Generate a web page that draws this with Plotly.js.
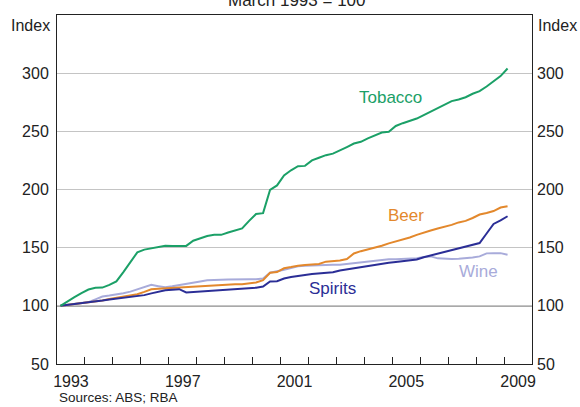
<!DOCTYPE html>
<html>
<head>
<meta charset="utf-8">
<script src="https://cdn.plot.ly/plotly-3.0.1.min.js"></script>
<style>html,body{margin:0;padding:0;background:#fff;}#chart{width:580px;height:407px;}</style>
</head>
<body>
<div id="chart"></div>
<script>
// Quarterly index, March quarter 1993 = 100 (1993 Q1 .. 2009 Q1)
var startYear = 1993.125;
var tobacco = [100,104,107.5,111,114,115.5,115.7,118,121,129,138,146,148.3,149.3,150.5,151.7,151.4,151.4,151.5,156,158,160,161,
  161,163,165,166.5,173,179,179.7,199.7,203.5,212,216.5,220,220.3,225,227.3,229.5,230.8,234,236.5,239.5,241,244,
  246.5,249,249.7,254.6,257,259.3,261,264,267,270,272.3,276,277.3,279.3,282.3,284.5,288.5,293,297.5,304];
var beer = [100,100.7,101.5,102.3,103,103.7,104.5,105.8,107,108,109,110,112,114.3,114.6,115,115.4,115.7,116,116.2,116.4,116.8,117.2,
  117.8,118.4,118.5,118.6,119,120,122,128.4,129,132.3,133.3,134.5,135,135.5,136,138,138.5,138.9,140.2,145,147,148.5,
  150,151.7,153.7,155.3,156.7,158.7,161,163.2,164.8,166.5,168,169.6,171.7,173,175.5,178.5,179.8,181.5,184.5,185.6];
var wine = [100,100.7,101.4,102.3,103.2,105.6,108,108.8,109.5,110.8,112.2,114.1,116.3,118,116.9,115.9,116.8,118,119.2,120.2,121,121.9,122.4,
  122.4,122.6,122.9,122.9,122.9,122.9,123.5,128.4,129.4,131,132.6,134,134.5,134.8,135.1,135.3,135.3,135.3,136,137.1,137.7,138.4,
  139,139.7,140,140.1,140.2,140.2,140.9,141.9,142.5,140.8,140.3,140.2,140.4,140.8,141.5,142.5,145.1,145.3,145.3,143.9];
var spirits = [100,100.7,101.4,102.2,102.7,103.3,104.5,105.4,106.1,106.8,107.4,108,109.2,110.7,112.1,113.3,113.8,114.3,111.5,111.9,112.3,112.7,113.2,
  113.7,114.2,114.6,114.9,115.2,115.6,116.6,121,121.2,123.5,124.8,126,126.6,127.3,127.8,128.3,128.8,130.4,131.4,132.5,132.9,134,
  135.2,136.1,137,137.6,138.2,138.9,139.8,141.8,143.3,144.5,146.3,148,149.5,150.6,152.2,154,162.2,170.4,173.5,177];

var yearTicks = [1993,1994,1995,1996,1997,1998,1999,2000,2001,2002,2003,2004,2005,2006,2007,2008,2009,2010];
var yearLabelPos = [1993.5,1997.5,2001.5,2005.5,2009.5];
var yearLabels = ['1993','1997','2001','2005','2009'];
var yTicks = [50,100,150,200,250,300,350];
var yLabels = ['50','100','150','200','250','300',''];

var dates = tobacco.map(function(_, i){ return startYear + 0.25*i; });

var colors = {tobacco:'#1ba067', beer:'#e3882c', wine:'#a8abda', spirits:'#2b2e96'};

function line(y, name, color){
  return {x: dates, y: y, name: name, type:'scatter', mode:'lines',
          line:{color:color, width:2}, hoverinfo:'skip', showlegend:false};
}

var traces = [
  line(wine, 'Wine', colors.wine),
  line(beer, 'Beer', colors.beer),
  line(spirits, 'Spirits', colors.spirits),
  line(tobacco, 'Tobacco', colors.tobacco),
  {x:[], y:[], xaxis:'x2', yaxis:'y', showlegend:false, hoverinfo:'skip'},
  {x:[], y:[], xaxis:'x', yaxis:'y2', showlegend:false, hoverinfo:'skip'}
];

var font = {family:'"Liberation Sans", Arial, sans-serif', size:16, color:'#222'};

var layout = {
  width:580, height:407,
  margin:{l:57, r:48, t:15, b:43, pad:0},
  paper_bgcolor:'#fff', plot_bgcolor:'#fff',
  font: font,
  showlegend:false,
  xaxis:{range:[1993,2010], tickvals:yearTicks, ticks:'inside', ticklen:7, tickcolor:'#222', tickwidth:1,
         showticklabels:false, showgrid:false, zeroline:false,
         showline:true, mirror:true, linecolor:'#222', linewidth:1},
  xaxis2:{range:[1993,2010], overlaying:'x', anchor:'y', side:'bottom', tickvals:yearLabelPos, ticktext:yearLabels,
          ticks:'', showgrid:false, zeroline:false, showline:false, ticklabelstandoff:6, tickfont:font},
  yaxis:{range:[50,350], tickvals:yTicks, ticktext:yLabels, ticks:'', showgrid:true, gridcolor:'#c4c4c4', gridwidth:1,
         zeroline:false, showline:true, mirror:true, linecolor:'#222', linewidth:1, ticklabelstandoff:4, tickfont:font},
  yaxis2:{range:[50,350], overlaying:'y', anchor:'x', side:'right', tickvals:yTicks, ticktext:yLabels, ticks:'',
          showgrid:false, zeroline:false, showline:false, ticklabelstandoff:4, tickfont:font},
  shapes:[
    {type:'line', xref:'paper', x0:0, x1:1, yref:'y', y0:100, y1:100, line:{color:'#555', width:1.5}, layer:'below'}
  ],
  annotations:[
    {text:'March 1993 = 100', xref:'paper', yref:'paper', x:0.505, y:1.042, xanchor:'center', yanchor:'middle', showarrow:false,
     font:{family:font.family, size:17, color:'#222'}},
    {text:'Index', xref:'paper', yref:'paper', x:-0.011, y:0.971, xanchor:'right', yanchor:'middle', showarrow:false, font:font},
    {text:'Index', xref:'paper', yref:'paper', x:1.008, y:0.971, xanchor:'left', yanchor:'middle', showarrow:false, font:font},
    {text:'Sources: ABS; RBA', xref:'paper', yref:'paper', x:0, y:-0.095, xanchor:'left', yanchor:'middle', showarrow:false,
     font:{family:font.family, size:13.5, color:'#222'}},
    {text:'Tobacco', x:2004.93, y:279.5, xref:'x', yref:'y', showarrow:false, font:{family:font.family, size:17, color:colors.tobacco}},
    {text:'Beer', x:2005.5, y:178, xref:'x', yref:'y', showarrow:false, font:{family:font.family, size:17, color:colors.beer}},
    {text:'Spirits', x:2002.87, y:115, xref:'x', yref:'y', showarrow:false, font:{family:font.family, size:17, color:colors.spirits}},
    {text:'Wine', x:2008.07, y:129.5, xref:'x', yref:'y', showarrow:false, font:{family:font.family, size:17, color:colors.wine}}
  ]
};

Plotly.newPlot('chart', traces, layout, {staticPlot:true, displayModeBar:false});
</script>
</body>
</html>
